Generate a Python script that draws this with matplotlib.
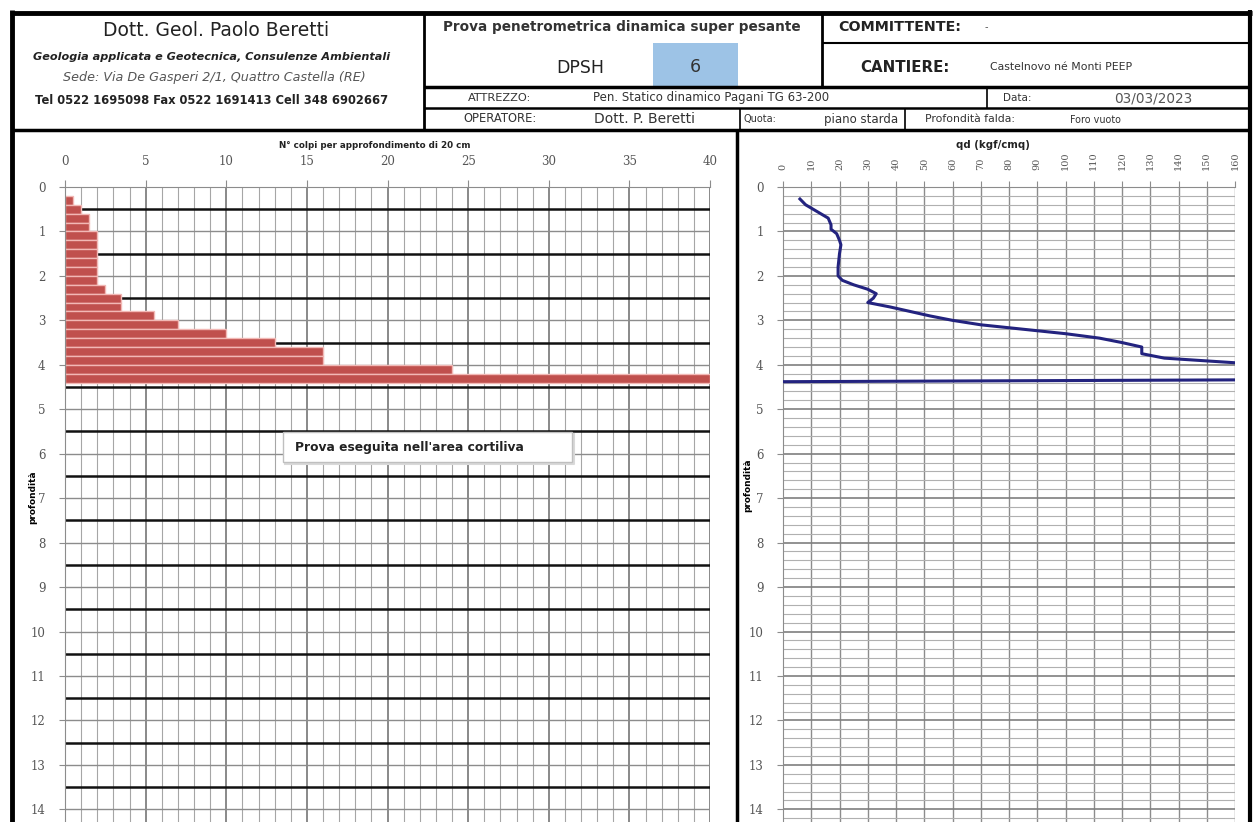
import matplotlib
matplotlib.use("Agg")
import matplotlib.pyplot as plt
from matplotlib.lines import Line2D
from matplotlib.patches import Rectangle
import numpy as np

W, H = 1255, 822

# ---------------- data ----------------
bar_depth_top = [0.2, 0.4, 0.6, 0.8, 1.0, 1.2, 1.4, 1.6, 1.8, 2.0, 2.2,
                 2.4, 2.6, 2.8, 3.0, 3.2, 3.4, 3.6, 3.8, 4.0, 4.2]
bar_blows = [0.5, 1, 1.5, 1.5, 2, 2, 2, 2, 2, 2, 2.5,
             3.5, 3.5, 5.5, 7, 10, 13, 16, 16, 24, 40]

qd_depth = [0.27, 0.4, 0.55, 0.7, 0.85, 0.95, 1.05, 1.2, 1.3, 1.5, 1.8, 2.0,
            2.1, 2.2, 2.3, 2.4, 2.5, 2.6, 2.7, 2.8, 2.9, 3.0, 3.1, 3.2, 3.3,
            3.4, 3.5, 3.6, 3.75, 3.85, 4.1, 4.3, 4.38]
qd_values = [6, 8, 12, 16, 17, 17, 19, 20, 20.5, 20, 19.5, 19.5,
             21, 25, 30, 33, 32, 30, 38, 45, 52, 60, 70, 85, 100,
             112, 120, 127, 127, 135, 195, 315, 0]

left_xticks = [0, 5, 10, 15, 20, 25, 30, 35, 40]
right_xticks = list(range(0, 161, 10))
depth_ticks = list(range(0, 15))

# ---------------- figure ----------------
fig = plt.figure(figsize=(W / 100, H / 100), dpi=100)
fig.patch.set_facecolor("white")


def fx(x):
    return x / W


def fy(y):
    return 1 - y / H


def hline(y, x0, x1, lw=1.5, c="black"):
    fig.add_artist(Line2D([fx(x0), fx(x1)], [fy(y), fy(y)], lw=lw, color=c,
                          transform=fig.transFigure, solid_capstyle="butt"))


def vline(x, y0, y1, lw=1.5, c="black"):
    fig.add_artist(Line2D([fx(x), fx(x)], [fy(y0), fy(y1)], lw=lw, color=c,
                          transform=fig.transFigure, solid_capstyle="butt"))


def txt(x, y, s, **kw):
    kw.setdefault("va", "center")
    kw.setdefault("ha", "center")
    fig.text(fx(x), fy(y), s, **kw)


# blue box
fig.add_artist(Rectangle((fx(653), fy(86)), fx(738) - fx(653), fy(43) - fy(86),
                         transform=fig.transFigure, facecolor="#9DC3E6",
                         edgecolor="none", zorder=0))

# ---------------- axes ----------------
y_bottom = (822 - 187) / 44.45
axL = fig.add_axes([fx(65), 0, fx(710) - fx(65), fy(187)])
axR = fig.add_axes([fx(783), 0, fx(1235) - fx(783), fy(187)])

for ax in (axL, axR):
    ax.set_ylim(y_bottom, 0)
    ax.xaxis.tick_top()
    for s in ("right", "bottom"):
        ax.spines[s].set_visible(False)
    ax.spines["left"].set_color("#8c8c8c")
    ax.spines["top"].set_color("#8c8c8c")
    ax.set_yticks(depth_ticks)
    ax.tick_params(axis="y", length=4, color="#8c8c8c", labelsize=8.5,
                   labelcolor="#555555", pad=10)
    for lab in ax.get_yticklabels():
        lab.set_family("DejaVu Serif")
    ax.set_axisbelow(True)

# Left chart
axL.set_xlim(0, 40)
axL.set_xticks(left_xticks)
axL.tick_params(axis="x", length=5, color="#8c8c8c", labelsize=8.5,
                labelcolor="#555555", pad=9)
for lab in axL.get_xticklabels():
    lab.set_family("DejaVu Serif")
for v in range(1, 41):
    axL.axvline(v, color="#808080" if v % 5 == 0 else "#a6a6a6",
                lw=1.3 if v % 5 == 0 else 0.8, zorder=0)
for d in np.arange(1, 15, 1.0):
    axL.axhline(d, color="#8c8c8c", lw=1.0, zorder=0)
for d in np.arange(0.5, 15, 1.0):
    axL.axhline(d, color="#111111", lw=1.8, zorder=1)
axL.barh(bar_depth_top, bar_blows, height=0.2, align="edge",
         color="#C0504D", edgecolor="#F2B8B5", linewidth=1.0, zorder=2)

# Right chart
axR.set_xlim(0, 160)
axR.set_xticks(right_xticks)
axR.tick_params(axis="x", length=4, color="#8c8c8c", labelsize=7,
                labelcolor="#555555", pad=8, labelrotation=90)
for lab in axR.get_xticklabels():
    lab.set_family("DejaVu Serif")
for v in range(10, 161, 10):
    axR.axvline(v, color="#8c8c8c", lw=1.0, zorder=0)
for d in np.arange(0.2, 15, 0.2):
    if abs(d - round(d)) < 1e-6:
        axR.axhline(d, color="#7f7f7f", lw=1.2, zorder=0)
    else:
        axR.axhline(d, color="#b0b0b0", lw=0.8, zorder=0)
axR.plot(qd_values, qd_depth, color="#23237F", lw=2.2, zorder=3, clip_on=True)

# axis titles
txt(375, 145, "N° colpi per approfondimento di 20 cm", fontsize=6.3,
    fontweight="bold", color="#222222")
txt(993, 145, "qd (kgf/cmq)", fontsize=7.3, fontweight="bold", color="#222222")
txt(33, 497, "profondità", fontsize=6.5, fontweight="bold", rotation=90)
txt(748, 485, "profondità", fontsize=6.5, fontweight="bold", rotation=90)

# text box
fig.add_artist(Rectangle((fx(283), fy(462)), fx(572) - fx(283), fy(432) - fy(462),
                         transform=fig.transFigure, facecolor="white",
                         edgecolor="#bfbfbf", lw=1.0, zorder=5))
fig.add_artist(Line2D([fx(285), fx(574), fx(574)], [fy(464), fy(464), fy(434)],
                      transform=fig.transFigure, color="#d9d9d9", lw=1.5, zorder=4))
fig.text(fx(295), fy(447), "Prova eseguita nell'area cortiliva", fontsize=8.8,
         fontweight="bold", color="#222222", ha="left", va="center", zorder=6)

# ---------------- header ----------------
txt(216, 30, "Dott. Geol. Paolo Beretti", fontsize=13.5, color="#222222")
txt(212, 57, "Geologia applicata e Geotecnica, Consulenze Ambientali", fontsize=8.1,
    fontweight="bold", style="italic", color="#222222")
txt(214, 78, "Sede: Via De Gasperi 2/1, Quattro Castella (RE)", fontsize=9.2,
    style="italic", color="#555555")
txt(212, 100, "Tel 0522 1695098 Fax 0522 1691413 Cell 348 6902667", fontsize=8.3,
    fontweight="bold", color="#222222")

txt(622, 27, "Prova penetrometrica dinamica super pesante", fontsize=9.8,
    fontweight="bold", color="#333333")
txt(580, 68, "DPSH", fontsize=12.5, color="#222222")
txt(695, 67, "6", fontsize=12.5, color="#333333")

txt(900, 27, "COMMITTENTE:", fontsize=10.3, fontweight="bold", color="#222222")
txt(986, 27, "-", fontsize=7, color="#555555")
txt(905, 67, "CANTIERE:", fontsize=10.8, fontweight="bold", color="#222222")
txt(1061, 67, "Castelnovo né Monti PEEP", fontsize=7.8, color="#333333")

txt(500, 98, "ATTREZZO:", fontsize=8.2, color="#333333")
fig.text(fx(593), fy(98), "Pen. Statico dinamico Pagani TG 63-200", fontsize=8.5,
         color="#333333", ha="left", va="center")
txt(1017, 98, "Data:", fontsize=7.5, color="#333333")
txt(1153, 98, "03/03/2023", fontsize=9.8, color="#555555")

txt(500, 119, "OPERATORE:", fontsize=8.3, color="#333333")
txt(645, 119, "Dott. P. Beretti", fontsize=10, color="#333333")
fig.text(fx(743), fy(119), "Quota:", fontsize=7, color="#333333",
         ha="left", va="center")
txt(861, 119, "piano starda", fontsize=8.5, color="#333333")
txt(970, 119, "Profondità falda:", fontsize=7.8, color="#333333")
txt(1095, 120, "Foro vuoto", fontsize=6.9, color="#333333")

# frame lines
hline(13, 10, 1252, lw=3.5)
vline(12, 10, 822, lw=3.5)
vline(1250, 10, 822, lw=3)
vline(424, 13, 130, lw=2)
vline(822, 13, 87, lw=2)
hline(43, 822, 1250, lw=1.5)
hline(87, 424, 1250, lw=2.5)
hline(108, 424, 1250, lw=1.8)
hline(130, 12, 1250, lw=2.5)
vline(987, 87, 108, lw=1.2)
vline(740, 108, 130, lw=1.2)
vline(905, 108, 130, lw=1.2)
vline(737, 130, 822, lw=2.5)

fig.savefig("out.png", dpi=100)
